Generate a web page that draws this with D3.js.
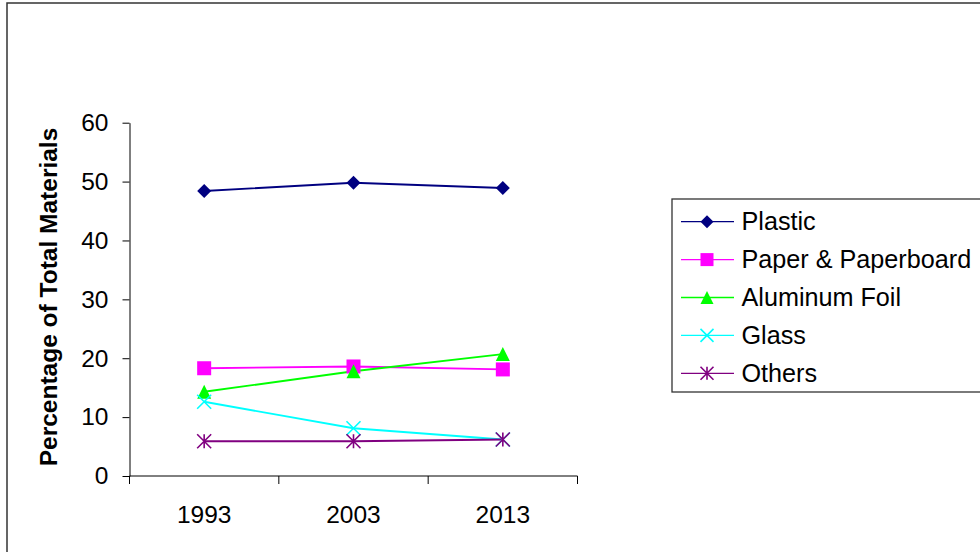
<!DOCTYPE html>
<html><head><meta charset="utf-8">
<script src="https://cdn.jsdelivr.net/npm/d3@7"></script>
<style>body{margin:0;background:#fff}svg{display:block;font-family:"Liberation Sans",Arial,sans-serif}</style>
</head><body>
<svg id="c" width="980" height="552"></svg>
<script>
const years = ["1993","2003","2013"];
const seriesNames = ["Plastic","Paper & Paperboard","Aluminum Foil","Glass","Others"];
const plastic = [48.4, 49.8, 48.9];
const paper = [18.3, 18.6, 18.1];
const aluminum = [14.3, 17.8, 20.7];
const glass = [12.6, 8.1, 6.2];
const others = [5.9, 5.9, 6.2];
const yTicks = [0,10,20,30,40,50,60];
const yTitle = "Percentage of Total Materials";

const colors = ["#000080","#FF00FF","#00FF00","#00FFFF","#800080"];
const shapes = ["diamond","square","triangle","x","star"];
const series = seriesNames.map((n,i)=>({name:n, values:[plastic,paper,aluminum,glass,others][i], color:colors[i], shape:shapes[i]}));

const svg = d3.select("#c");
svg.append("rect").attr("x",7).attr("y",3).attr("width",1000).attr("height",600)
  .attr("fill","#fff").attr("stroke","#333").attr("stroke-width",1.5);

const x = d3.scaleBand().domain(years).range([129.5,577.5]);
const y = d3.scaleLinear().domain([0,60]).range([476,122.7]);

// y axis
const ya = svg.append("g").attr("transform","translate(129.5,0)")
  .call(d3.axisLeft(y).tickValues(yTicks).tickSize(7).tickPadding(14).tickSizeOuter(0));
ya.select(".domain").attr("stroke","#000");
ya.selectAll(".tick line").attr("stroke","#000");
ya.selectAll("text").attr("font-size",24.5).attr("fill","#000").attr("font-family","Liberation Sans, Arial, sans-serif");

// x axis
const xg = svg.append("g").attr("transform","translate(0,476)");
xg.append("line").attr("x1",x.range()[0]).attr("x2",x.range()[1]).attr("stroke","#000");
const edges = years.map(d=>x(d)).concat([x.range()[1]]);
xg.selectAll("line.tk").data(edges).join("line").attr("class","tk")
  .attr("x1",d=>d).attr("x2",d=>d).attr("y1",0).attr("y2",8).attr("stroke","#000");
xg.selectAll("text").data(years).join("text")
  .attr("x",d=>x(d)+x.bandwidth()/2).attr("y",46.5).attr("text-anchor","middle")
  .attr("font-size",24.5).attr("fill","#000").text(d=>d);

// y title
svg.append("text").attr("transform","translate(57,297) rotate(-90)").attr("text-anchor","middle")
  .attr("font-size",24.5).attr("font-weight","bold").attr("fill","#000").text(yTitle);

function marker(g, shape, color, s){
  const h = s/2;
  if(shape==="diamond") g.append("path").attr("d",`M0,${-h}L${h},0L0,${h}L${-h},0Z`).attr("fill",color);
  else if(shape==="square") g.append("rect").attr("x",-h).attr("y",-h).attr("width",s).attr("height",s).attr("fill",color);
  else if(shape==="triangle") g.append("path").attr("d",`M0,${-h}L${h},${h}L${-h},${h}Z`).attr("fill",color);
  else if(shape==="x") g.append("path").attr("d",`M${-h},${-h}L${h},${h}M${-h},${h}L${h},${-h}`).attr("stroke",color).attr("stroke-width",1.6).attr("fill","none");
  else g.append("path").attr("d",`M${-h},${-h}L${h},${h}M${-h},${h}L${h},${-h}M0,${-h}L0,${h}`).attr("stroke",color).attr("stroke-width",1.6).attr("fill","none");
}

const line = d3.line().x((d,i)=>x(years[i])+x.bandwidth()/2).y(d=>y(d));
series.forEach(s=>{
  svg.append("path").datum(s.values).attr("d",line).attr("fill","none").attr("stroke",s.color).attr("stroke-width",1.9);
});
series.forEach(s=>{
  s.values.forEach((v,i)=>{
    const g = svg.append("g").attr("transform",`translate(${x(years[i])+x.bandwidth()/2},${y(v)})`);
    marker(g, s.shape, s.color, 14);
  });
});

// legend
const lg = svg.append("g");
lg.append("rect").attr("x",672).attr("y",199).attr("width",340).attr("height",193)
  .attr("fill","#fff").attr("stroke","#333").attr("stroke-width",1.3);
series.forEach((s,i)=>{
  const cy = 221.7 + i*37.9;
  lg.append("line").attr("x1",681).attr("x2",734).attr("y1",cy).attr("y2",cy).attr("stroke",s.color).attr("stroke-width",1.3);
  const g = lg.append("g").attr("transform",`translate(707,${cy})`);
  marker(g, s.shape, s.color, 13);
  lg.append("text").attr("x",741.5).attr("y",cy+8.5).attr("font-size",25.2).attr("fill","#000").text(s.name);
});
</script>
</body></html>
